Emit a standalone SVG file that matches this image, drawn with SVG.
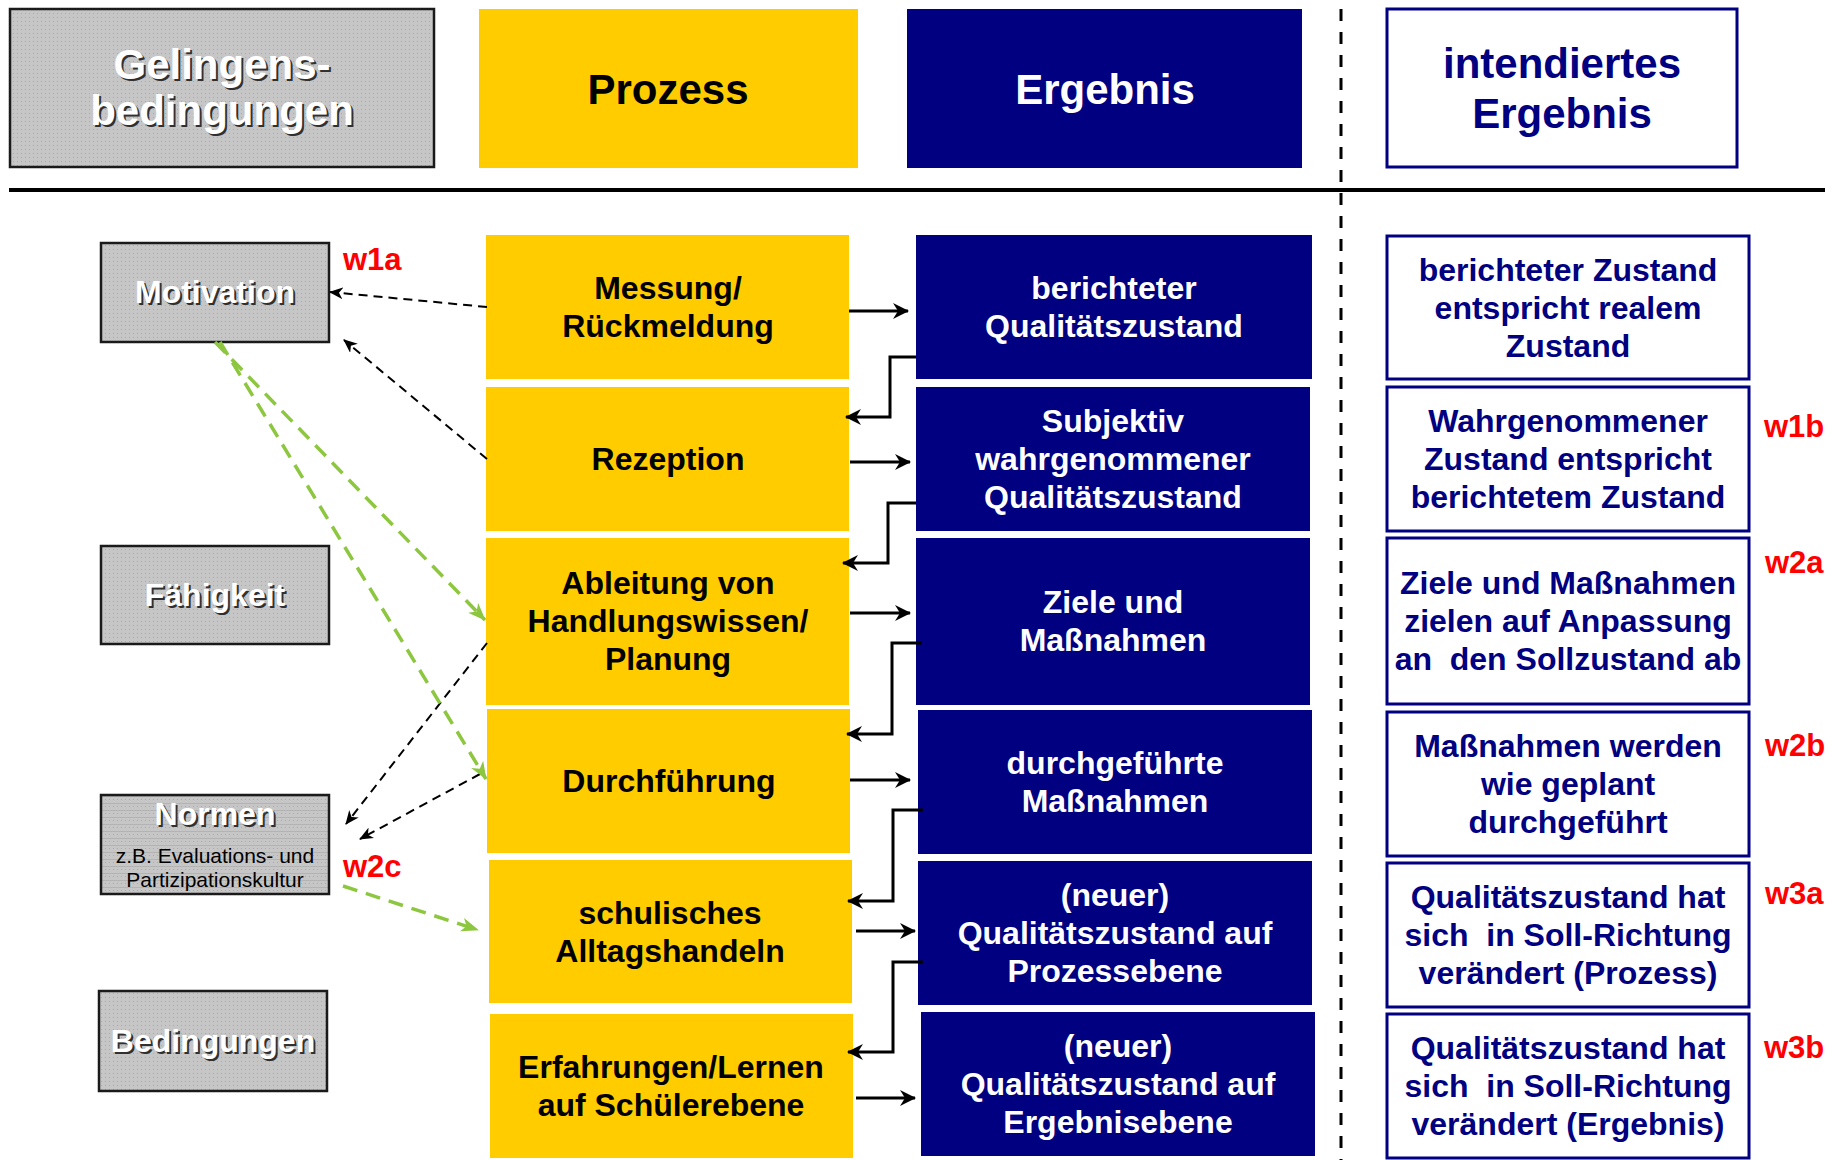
<svg xmlns="http://www.w3.org/2000/svg" width="1832" height="1160" viewBox="0 0 1832 1160">
<defs>
<pattern id="dots" width="4" height="4" patternUnits="userSpaceOnUse"><rect width="4" height="4" fill="#c6c6c6"/><rect x="1" y="1" width="1" height="1" fill="#a9a9a9"/></pattern>
<pattern id="hlines" width="4" height="7" patternUnits="userSpaceOnUse"><rect width="4" height="7" fill="#c6c6c6"/><rect x="1" y="1" width="1" height="1" fill="#a9a9a9"/><rect x="0" y="5" width="4" height="1" fill="#b3b3b3"/></pattern>
<marker id="solid" viewBox="0 0 16 16" markerWidth="16" markerHeight="16" refX="15" refY="8" orient="auto" markerUnits="userSpaceOnUse"><path d="M0,0 L16,8 L0,16 L5,8 z" fill="#000"/></marker>
<marker id="thin" viewBox="0 0 14 12" markerWidth="14" markerHeight="12" refX="13" refY="6" orient="auto" markerUnits="userSpaceOnUse"><path d="M0,0 L14,6 L0,12 L4,6 z" fill="#000"/></marker>
<marker id="green" viewBox="0 0 18 14" markerWidth="18" markerHeight="14" refX="17" refY="7" orient="auto" markerUnits="userSpaceOnUse"><path d="M0,0 L18,7 L0,14 L5,7 z" fill="#8DC63F"/></marker>
<style>
text{font-family:"Liberation Sans",Arial,sans-serif;font-weight:bold;text-anchor:middle}
.gray{fill:url(#dots);stroke:#1a1a1a;stroke-width:2.5}
.yel{fill:#FFCC00}
.blue{fill:#000080}
.intd{fill:#fff;stroke:#000080;stroke-width:3}
.t32{font-size:32px}
.wt{fill:#fff}
.nv{fill:#000080}
.bk{fill:#000}
.sh{fill:#303030}
.red{fill:#FF0000;font-size:31px;text-anchor:start}
.flow{fill:none;stroke:#000;stroke-width:3;marker-end:url(#solid)}
.dash{fill:none;stroke:#000;stroke-width:2;stroke-dasharray:9 6;marker-end:url(#thin)}
.gdash{fill:none;stroke:#8DC63F;stroke-width:3.5;stroke-dasharray:15 9;marker-end:url(#green)}
</style>
</defs>
<rect width="1832" height="1160" fill="#fff"/>

<!-- header -->
<g id="h-gelingens">
<rect class="gray" x="10" y="9" width="424" height="158"/>
<text x="224" y="81" style="font-size:42px" class="sh">Gelingens-</text>
<text x="224" y="127" style="font-size:42px" class="sh">bedingungen</text>
<text x="222" y="79" style="font-size:42px" class="wt">Gelingens-</text>
<text x="222" y="125" style="font-size:42px" class="wt">bedingungen</text>
</g>
<g id="h-prozess">
<rect class="yel" x="479" y="9" width="379" height="159"/>
<text x="668" y="104" style="font-size:42px" class="bk">Prozess</text>
</g>
<g id="h-ergebnis">
<rect class="blue" x="907" y="9" width="395" height="159"/>
<text x="1105" y="104" style="font-size:42px" class="wt">Ergebnis</text>
</g>
<g id="h-intendiert">
<rect class="intd" x="1387" y="9" width="350" height="158"/>
<text x="1562" y="78" style="font-size:42px" class="nv">intendiertes</text>
<text x="1562" y="128" style="font-size:42px" class="nv">Ergebnis</text>
</g>
<g id="separators">
<line x1="9" y1="190" x2="1825" y2="190" stroke="#000" stroke-width="4"/>
<line x1="1341" y1="9" x2="1341" y2="1160" stroke="#000" stroke-width="3" stroke-dasharray="12 11"/>
</g>

<!-- left column -->
<g id="motivation">
<rect class="gray" x="101" y="243" width="228" height="99"/>
<text x="217" y="305" class="t32 sh">Motivation</text>
<text x="215" y="303" class="t32 wt">Motivation</text>
</g>
<g id="faehigkeit">
<rect class="gray" x="101" y="546" width="228" height="98"/>
<text x="217" y="608" class="t32 sh">Fähigkeit</text>
<text x="215" y="606" class="t32 wt">Fähigkeit</text>
</g>
<g id="normen">
<rect x="101" y="795" width="228" height="99" fill="url(#hlines)" stroke="#1a1a1a" stroke-width="2.5"/>
<text x="217" y="827" class="t32 sh">Normen</text>
<text x="215" y="825" class="t32 wt">Normen</text>
<text x="215" y="863" class="bk" style="font-size:21px;font-weight:normal">z.B. Evaluations- und</text>
<text x="215" y="887" class="bk" style="font-size:21px;font-weight:normal">Partizipationskultur</text>
</g>
<g id="bedingungen">
<rect class="gray" x="99" y="991" width="228" height="100"/>
<text x="215" y="1054" class="t32 sh">Bedingungen</text>
<text x="213" y="1052" class="t32 wt">Bedingungen</text>
</g>

<!-- process column -->
<g id="p-messung">
<rect class="yel" x="486" y="235" width="363" height="144"/>
<text x="668" y="299" class="t32 bk">Messung/</text>
<text x="668" y="337" class="t32 bk">Rückmeldung</text>
</g>
<g id="p-rezeption">
<rect class="yel" x="486" y="387" width="363" height="144"/>
<text x="668" y="470" class="t32 bk">Rezeption</text>
</g>
<g id="p-ableitung">
<rect class="yel" x="486" y="538" width="363" height="167"/>
<text x="668" y="594" class="t32 bk">Ableitung von</text>
<text x="668" y="632" class="t32 bk">Handlungswissen/</text>
<text x="668" y="670" class="t32 bk">Planung</text>
</g>
<g id="p-durchfuehrung">
<rect class="yel" x="487" y="709" width="363" height="144"/>
<text x="669" y="792" class="t32 bk">Durchführung</text>
</g>
<g id="p-alltag">
<rect class="yel" x="489" y="860" width="363" height="143"/>
<text x="670" y="924" class="t32 bk">schulisches</text>
<text x="670" y="962" class="t32 bk">Alltagshandeln</text>
</g>
<g id="p-erfahrungen">
<rect class="yel" x="490" y="1014" width="363" height="144"/>
<text x="671" y="1078" class="t32 bk">Erfahrungen/Lernen</text>
<text x="671" y="1116" class="t32 bk">auf Schülerebene</text>
</g>

<!-- result column -->
<g id="r-berichtet">
<rect class="blue" x="916" y="235" width="396" height="144"/>
<text x="1114" y="299" class="t32 wt">berichteter</text>
<text x="1114" y="337" class="t32 wt">Qualitätszustand</text>
</g>
<g id="r-subjektiv">
<rect class="blue" x="916" y="387" width="394" height="144"/>
<text x="1113" y="432" class="t32 wt">Subjektiv</text>
<text x="1113" y="470" class="t32 wt">wahrgenommener</text>
<text x="1113" y="508" class="t32 wt">Qualitätszustand</text>
</g>
<g id="r-ziele">
<rect class="blue" x="916" y="538" width="394" height="167"/>
<text x="1113" y="613" class="t32 wt">Ziele und</text>
<text x="1113" y="651" class="t32 wt">Maßnahmen</text>
</g>
<g id="r-durchgefuehrt">
<rect class="blue" x="918" y="710" width="394" height="144"/>
<text x="1115" y="774" class="t32 wt">durchgeführte</text>
<text x="1115" y="812" class="t32 wt">Maßnahmen</text>
</g>
<g id="r-prozessebene">
<rect class="blue" x="918" y="861" width="394" height="144"/>
<text x="1115" y="906" class="t32 wt">(neuer)</text>
<text x="1115" y="944" class="t32 wt">Qualitätszustand auf</text>
<text x="1115" y="982" class="t32 wt">Prozessebene</text>
</g>
<g id="r-ergebnisebene">
<rect class="blue" x="921" y="1012" width="394" height="144"/>
<text x="1118" y="1057" class="t32 wt">(neuer)</text>
<text x="1118" y="1095" class="t32 wt">Qualitätszustand auf</text>
<text x="1118" y="1133" class="t32 wt">Ergebnisebene</text>
</g>

<!-- intended column -->
<g id="i-1">
<rect class="intd" x="1387" y="236" width="362" height="143"/>
<text x="1568" y="281" class="t32 nv">berichteter Zustand</text>
<text x="1568" y="319" class="t32 nv">entspricht realem</text>
<text x="1568" y="357" class="t32 nv">Zustand</text>
</g>
<g id="i-2">
<rect class="intd" x="1387" y="387" width="362" height="144"/>
<text x="1568" y="432" class="t32 nv">Wahrgenommener</text>
<text x="1568" y="470" class="t32 nv">Zustand entspricht</text>
<text x="1568" y="508" class="t32 nv">berichtetem Zustand</text>
</g>
<g id="i-3">
<rect class="intd" x="1387" y="538" width="362" height="166"/>
<text x="1568" y="594" class="t32 nv">Ziele und Maßnahmen</text>
<text x="1568" y="632" class="t32 nv">zielen auf Anpassung</text>
<text x="1568" y="670" class="t32 nv" xml:space="preserve">an  den Sollzustand ab</text>
</g>
<g id="i-4">
<rect class="intd" x="1387" y="712" width="362" height="144"/>
<text x="1568" y="757" class="t32 nv">Maßnahmen werden</text>
<text x="1568" y="795" class="t32 nv">wie geplant</text>
<text x="1568" y="833" class="t32 nv">durchgeführt</text>
</g>
<g id="i-5">
<rect class="intd" x="1387" y="863" width="362" height="144"/>
<text x="1568" y="908" class="t32 nv">Qualitätszustand hat</text>
<text x="1568" y="946" class="t32 nv" xml:space="preserve">sich  in Soll-Richtung</text>
<text x="1568" y="984" class="t32 nv">verändert (Prozess)</text>
</g>
<g id="i-6">
<rect class="intd" x="1387" y="1014" width="362" height="144"/>
<text x="1568" y="1059" class="t32 nv">Qualitätszustand hat</text>
<text x="1568" y="1097" class="t32 nv" xml:space="preserve">sich  in Soll-Richtung</text>
<text x="1568" y="1135" class="t32 nv">verändert (Ergebnis)</text>
</g>

<!-- red labels -->
<g id="labels">
<text x="343" y="270" class="red">w1a</text>
<text x="343" y="877" class="red">w2c</text>
<text x="1764" y="437" class="red">w1b</text>
<text x="1765" y="573" class="red">w2a</text>
<text x="1765" y="756" class="red">w2b</text>
<text x="1765" y="904" class="red">w3a</text>
<text x="1764" y="1058" class="red">w3b</text>
</g>

<!-- connectors -->
<g id="connectors">
<path class="flow" d="M849,311 H908"/>
<path class="flow" d="M850,462 H910"/>
<path class="flow" d="M850,613 H910"/>
<path class="flow" d="M850,780 H910"/>
<path class="flow" d="M856,931 H915"/>
<path class="flow" d="M856,1098 H915"/>
<path class="flow" d="M916,357 H890 V417 H846"/>
<path class="flow" d="M916,503 H888 V563 H843"/>
<path class="flow" d="M922,643 H892 V734 H847"/>
<path class="flow" d="M923,810 H893 V901 H848"/>
<path class="flow" d="M923,962 H893 V1052 H848"/>
<path class="dash" d="M487,307 L330,292"/>
<path class="dash" d="M487,459 L344,340"/>
<path class="dash" d="M487,643 L346,824"/>
<path class="dash" d="M480,774 L360,839"/>
<path class="gdash" d="M215,342 L485,620"/>
<path class="gdash" d="M220,342 L486,779"/>
<path class="gdash" d="M343,886 L478,930"/>
</g>
</svg>
